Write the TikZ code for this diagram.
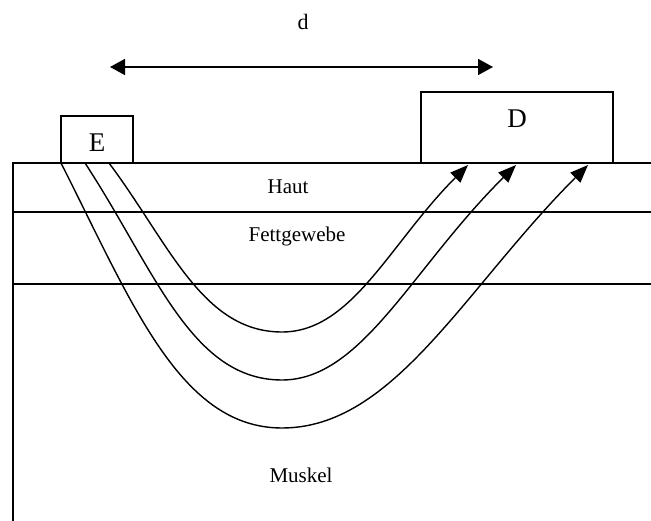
\documentclass[tikz,border=0pt]{standalone}
\usepackage{fontspec}
\setmainfont{Liberation Serif}
\usetikzlibrary{arrows.meta}
\begin{document}
\begin{tikzpicture}[x=1pt,y=-1pt,
  layer/.style={line width=1.4pt},
  probe/.style={draw,line width=1.4pt,inner sep=0pt},
  tissue/.style={anchor=base,inner sep=0pt,font=\fontsize{21}{24}\selectfont},
  ray/.style={line width=1.4pt,-{Triangle[length=18pt,width=14pt]}},
  span/.style={line width=1.6pt,{Triangle[length=15pt,width=16pt]}-{Triangle[length=15pt,width=16pt]}}]
\useasboundingbox (0,0) rectangle (651,521);

% tissue boundaries
\coordinate (skinL) at (13,163);
\coordinate (skinR) at (651,163);
\coordinate (fatL) at (13,212);
\coordinate (fatR) at (651,212);
\coordinate (muscL) at (13,284);
\coordinate (muscR) at (651,284);
\coordinate (bottomL) at (13,521);
\draw[layer] (skinR) -- (skinL) -- (bottomL);
\draw[layer] (fatL) -- (fatR);
\draw[layer] (muscL) -- (muscR);
\coordinate (hautA) at (205,212);
\coordinate (hautB) at (397,212);
\draw[line width=1.9pt] (hautA) -- (hautB);

% emitter and detector
\node[probe,minimum width=72pt,minimum height=47pt] (E) at (97,139.5) {};
\node[anchor=base] (Elab) at (97,151.5) {\fontsize{27}{30}\selectfont E};
\node[probe,minimum width=192pt,minimum height=71pt] (D) at (517,127.5) {};
\node[anchor=base] (Dlab) at (517,127.5) {\fontsize{27}{30}\selectfont D};

% source-detector distance
\node[anchor=base,font=\fontsize{22}{26}\selectfont] (dlab) at (303,30) {d};
\coordinate (dA) at (110,67);
\coordinate (dB) at (493,67);
\draw[span] (dA) -- (dB);

% tissue labels
\node[tissue] (haut) at (288,194) {Haut};
\node[tissue] (fett) at (297,242) {Fettgewebe};
\node[tissue] (musk) at (301,482) {Muskel};

% light paths
\coordinate (s1) at (109,163);
\coordinate (s2) at (85,163);
\coordinate (s3) at (61,163);
\coordinate (b1) at (282,332);
\coordinate (b2) at (282,380);
\coordinate (b3) at (282,428);
\coordinate (t1) at (468,165);
\coordinate (t2) at (516,165);
\coordinate (t3) at (588,165);
\draw[ray] (s1) .. controls (169,243) and (202,332) .. (b1)
                .. controls (352,332) and (390,243) .. (t1);
\draw[ray] (s2) .. controls (155,270) and (191,380) .. (b2)
                .. controls (362,380) and (412,268) .. (t2);
\draw[ray] (s3) .. controls (132,303) and (180,428) .. (b3)
                .. controls (394,428) and (464,289) .. (t3);
\end{tikzpicture}
\end{document}
